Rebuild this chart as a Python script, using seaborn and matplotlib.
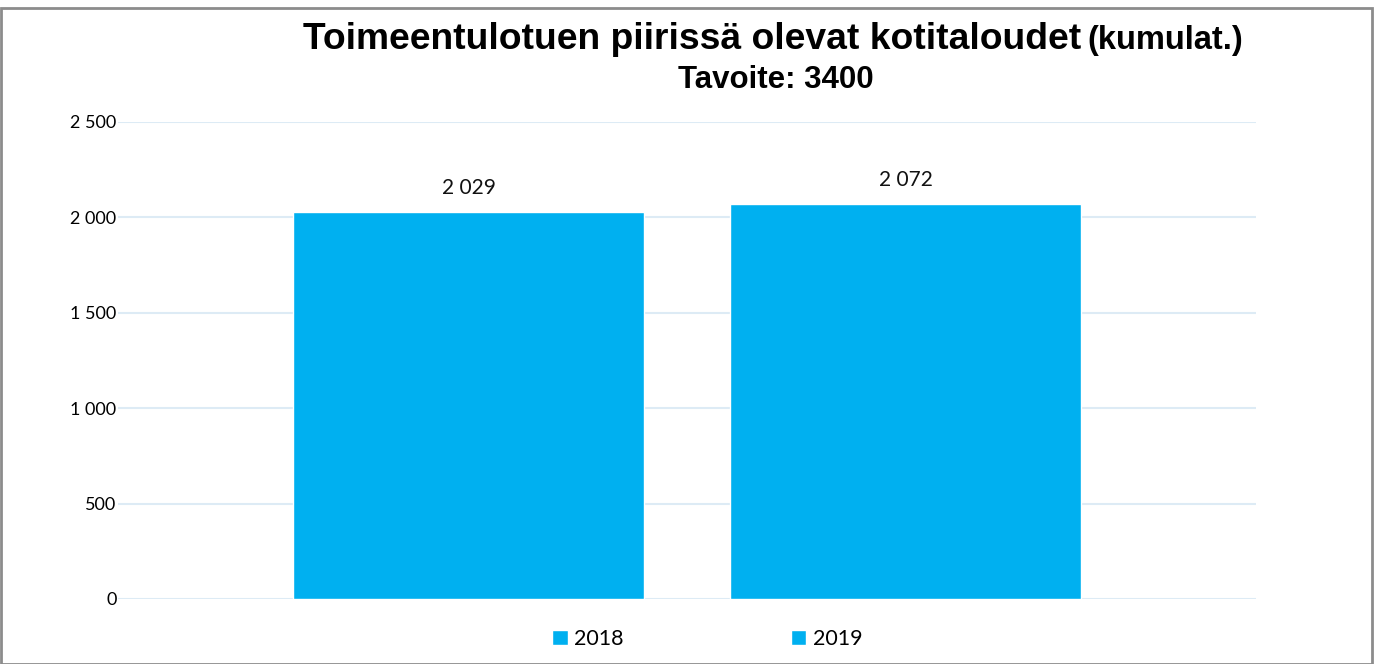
import matplotlib
matplotlib.use("Agg")
import matplotlib.pyplot as plt
import matplotlib.ticker as mticker
from matplotlib.patches import Rectangle
import seaborn as sns
import pandas as pd

years = ["2018", "2019"]
values = [2029, 2072]
category = ["Kotitaloudet", "Kotitaloudet"]
yticks = [0, 500, 1000, 1500, 2000, 2500]

df = pd.DataFrame({"cat": category, "year": years, "value": values})

sns.set_theme(style="white")
plt.rcParams["font.family"] = ["Lato", "DejaVu Sans"]

fig = plt.figure(figsize=(13.75, 6.64), dpi=100)
ax = fig.add_axes([0.0858, 0.0979, 0.8277, 0.7184])

bar_color = "#00B0F0"
sns.barplot(data=df, x="cat", y="value", hue="year", palette=[bar_color, bar_color],
            width=0.768, gap=0.195, ax=ax, legend=True, saturation=1)

ax.set_ylim(0, 2500)
ax.set_xlim(-0.5, 0.5)
ax.set_yticks(yticks)
fmt = lambda v, p: f"{int(v):,}".replace(",", " ")
ax.yaxis.set_major_formatter(mticker.FuncFormatter(fmt))
ax.tick_params(axis="y", labelsize=13, colors="#000000", length=0, pad=1)
ax.set_xticks([])
ax.set_xlabel("")
ax.set_ylabel("")
ax.grid(axis="y", color="#DDEBF5", linewidth=1.5)
ax.set_axisbelow(True)
for s in ax.spines.values():
    s.set_visible(False)

for c in ax.containers:
    ax.bar_label(c, labels=[fmt(v, None) for v in c.datavalues], padding=10,
                 fontsize=15, color="#111111")

handles, labels = ax.get_legend_handles_labels()
leg = ax.legend(handles, labels, loc="center", bbox_to_anchor=(0.518, -0.084), ncol=2,
                frameon=False, fontsize=15.5, handlelength=0.7, handleheight=0.7,
                handletextpad=0.3, columnspacing=7.8)
for t in leg.get_texts():
    t.set_color("#000000")

fig.text(0.2204, 0.926, "Toimeentulotuen piirissä olevat kotitaloudet",
         ha="left", va="baseline", fontsize=26.8, fontweight="bold",
         family="Liberation Sans", color="#000000")
fig.text(0.7905, 0.926, "(kumulat.)", ha="left", va="baseline", fontsize=23.5,
         fontweight="bold", family="Liberation Sans", color="#000000")
fig.text(0.5645, 0.8675, "Tavoite: 3400", ha="center", va="baseline", fontsize=22.5,
         fontweight="bold", family="Liberation Sans", color="#000000")

fig.patches.append(Rectangle((0.001, 0.0), 0.997, 0.988, transform=fig.transFigure,
                             fill=False, edgecolor="#8C8C8C", linewidth=2))

fig.savefig("out.png", dpi=100)
